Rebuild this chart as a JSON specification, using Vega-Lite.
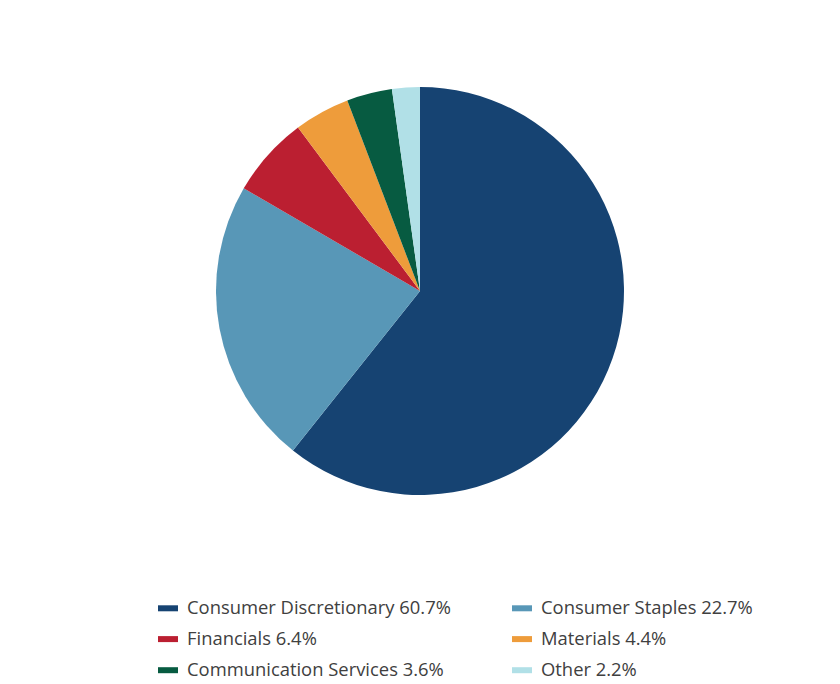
{
  "$schema": "https://vega.github.io/schema/vega-lite/v6.json",
  "width": 840,
  "height": 582,
  "autosize": "none",
  "padding": {"left": 0, "top": 0, "right": 0, "bottom": 102},
  "background": "white",
  "data": {
    "values": [
      {"sector": "Consumer Discretionary 60.7%", "share": 60.7, "rank": 1},
      {"sector": "Consumer Staples 22.7%", "share": 22.7, "rank": 2},
      {"sector": "Financials 6.4%", "share": 6.4, "rank": 3},
      {"sector": "Materials 4.4%", "share": 4.4, "rank": 4},
      {"sector": "Communication Services 3.6%", "share": 3.6, "rank": 5},
      {"sector": "Other 2.2%", "share": 2.2, "rank": 6}
    ]
  },
  "mark": {"type": "arc", "outerRadius": 204},
  "encoding": {
    "theta": {"field": "share", "type": "quantitative", "stack": true},
    "order": {"field": "rank", "type": "quantitative"},
    "color": {
      "field": "sector",
      "type": "nominal",
      "sort": null,
      "scale": {
        "domain": [
          "Consumer Discretionary 60.7%",
          "Consumer Staples 22.7%",
          "Financials 6.4%",
          "Materials 4.4%",
          "Communication Services 3.6%",
          "Other 2.2%"
        ],
        "range": ["#164372", "#5897b7", "#bb1f31", "#ee9c3b", "#075b41", "#b1e0e7"]
      },
      "legend": {
        "title": null,
        "orient": "none",
        "direction": "horizontal",
        "legendX": 158,
        "legendY": 598,
        "columns": 2,
        "columnPadding": 61,
        "rowPadding": 11.1,
        "symbolType": "M-1,-0.3H1V0.3H-1Z",
        "symbolSize": 400,
        "symbolStrokeWidth": 0,
        "labelOffset": 9,
        "labelFont": "Open Sans",
        "labelFontSize": 18.4,
        "labelColor": "#404040",
        "labelLimit": 400
      }
    }
  },
  "config": {"view": {"stroke": null}}
}
